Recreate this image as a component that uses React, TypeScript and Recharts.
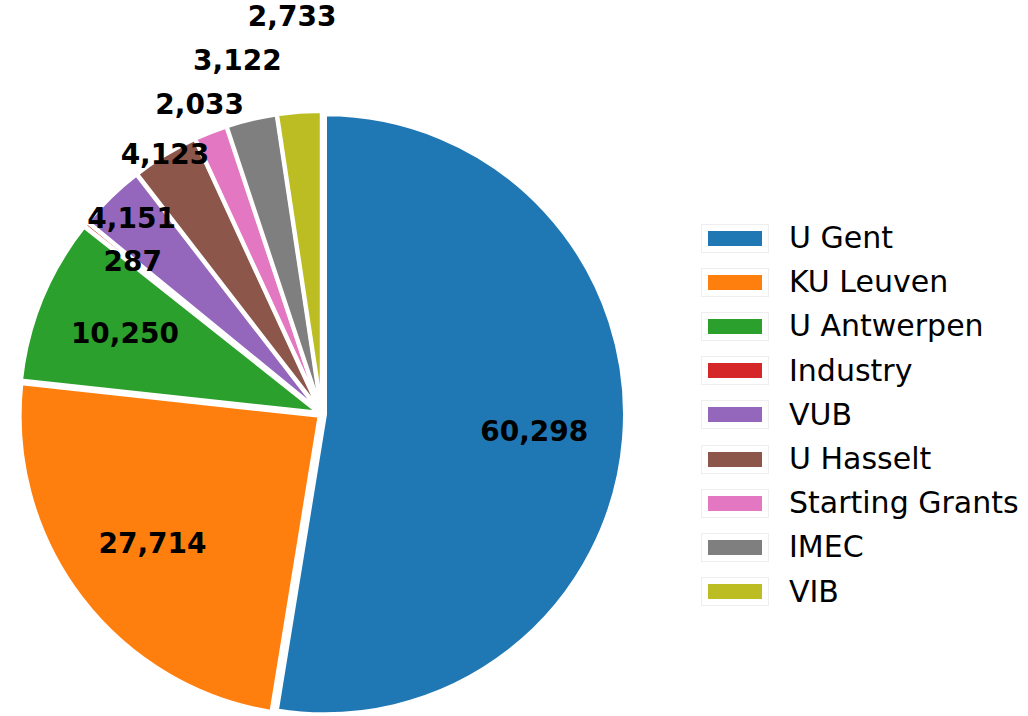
import { PieChart, Pie, Cell, Sector, Legend } from 'recharts';

const NAMES = ['U Gent', 'KU Leuven', 'U Antwerpen', 'Industry', 'VUB', 'U Hasselt', 'Starting Grants', 'IMEC', 'VIB'];
const VALUES = [60298, 27714, 10250, 287, 4151, 4123, 2033, 3122, 2733];
const COLORS = ['#1f77b4', '#ff7f0e', '#2ca02c', '#d62728', '#9467bd', '#8c564b', '#e377c2', '#7f7f7f', '#bcbd22'];
// label distance as a fraction of the radius (small slices pushed outward)
const LABEL_DIST = [0.7, 0.7, 0.7, 0.8, 0.9, 1.0, 1.1, 1.2, 1.32];

const RAD = Math.PI / 180;
const EXPLODE = 3;

const data = NAMES.map((name, i) => ({ name, value: VALUES[i] }));

// slightly exploded wedge with a faint outer rim
const ExplodedSector = (props: any) => {
  const { cx, cy, midAngle, outerRadius, startAngle, endAngle, fill } = props;
  const dx = EXPLODE * Math.cos(-midAngle * RAD);
  const dy = EXPLODE * Math.sin(-midAngle * RAD);
  return (
    <g>
      <Sector
        cx={cx + dx}
        cy={cy + dy}
        innerRadius={0}
        outerRadius={outerRadius + 1.5}
        startAngle={startAngle}
        endAngle={endAngle}
        fill="#d8d8d8"
        stroke="none"
      />
      <Sector
        cx={cx + dx}
        cy={cy + dy}
        innerRadius={0}
        outerRadius={outerRadius}
        startAngle={startAngle}
        endAngle={endAngle}
        fill={fill}
        stroke="#ffffff"
        strokeWidth={4}
        strokeLinejoin="miter"
      />
    </g>
  );
};

const renderLabel = (props: any) => {
  const { cx, cy, midAngle, outerRadius, index, value } = props;
  const r = outerRadius * LABEL_DIST[index] + EXPLODE;
  const x = cx + r * Math.cos(-midAngle * RAD);
  const y = cy + r * Math.sin(-midAngle * RAD);
  return (
    <text
      x={x}
      y={y}
      textAnchor="middle"
      dominantBaseline="central"
      fontFamily="DejaVu Sans"
      fontWeight="bold"
      fontSize={28}
      fill="#000"
    >
      {value.toLocaleString('en-US')}
    </text>
  );
};

const renderLegend = () => (
  <div style={{ fontFamily: 'DejaVu Sans', fontSize: 30, color: '#000' }}>
    {NAMES.map((name, i) => (
      <div key={name} style={{ display: 'flex', alignItems: 'center', height: 44.2 }}>
        <div
          style={{
            width: 54,
            height: 15,
            background: COLORS[i],
            border: '6px solid #fff',
            outline: '1px solid #eeeeee',
            marginRight: 21,
          }}
        />
        <span style={{ lineHeight: '30px' }}>{name}</span>
      </div>
    ))}
  </div>
);

export default function App() {
  return (
    <div style={{ position: 'absolute', left: 0, top: 0, background: '#fff' }}>
      <PieChart width={1028} height={716} margin={{ top: 0, right: 0, bottom: 0, left: 0 }}>
        <Pie
          data={data}
          dataKey="value"
          nameKey="name"
          cx={322}
          cy={414}
          outerRadius={300}
          startAngle={90}
          endAngle={-270}
          stroke="#fff"
          label={renderLabel}
          labelLine={false}
          shape={ExplodedSector}
          isAnimationActive={false}
        >
          {data.map((d, i) => (
            <Cell key={d.name} fill={COLORS[i]} />
          ))}
        </Pie>
        <Legend
          layout="vertical"
          content={renderLegend}
          wrapperStyle={{ position: 'absolute', left: 702, top: 216, width: 326 }}
        />
      </PieChart>
    </div>
  );
}
